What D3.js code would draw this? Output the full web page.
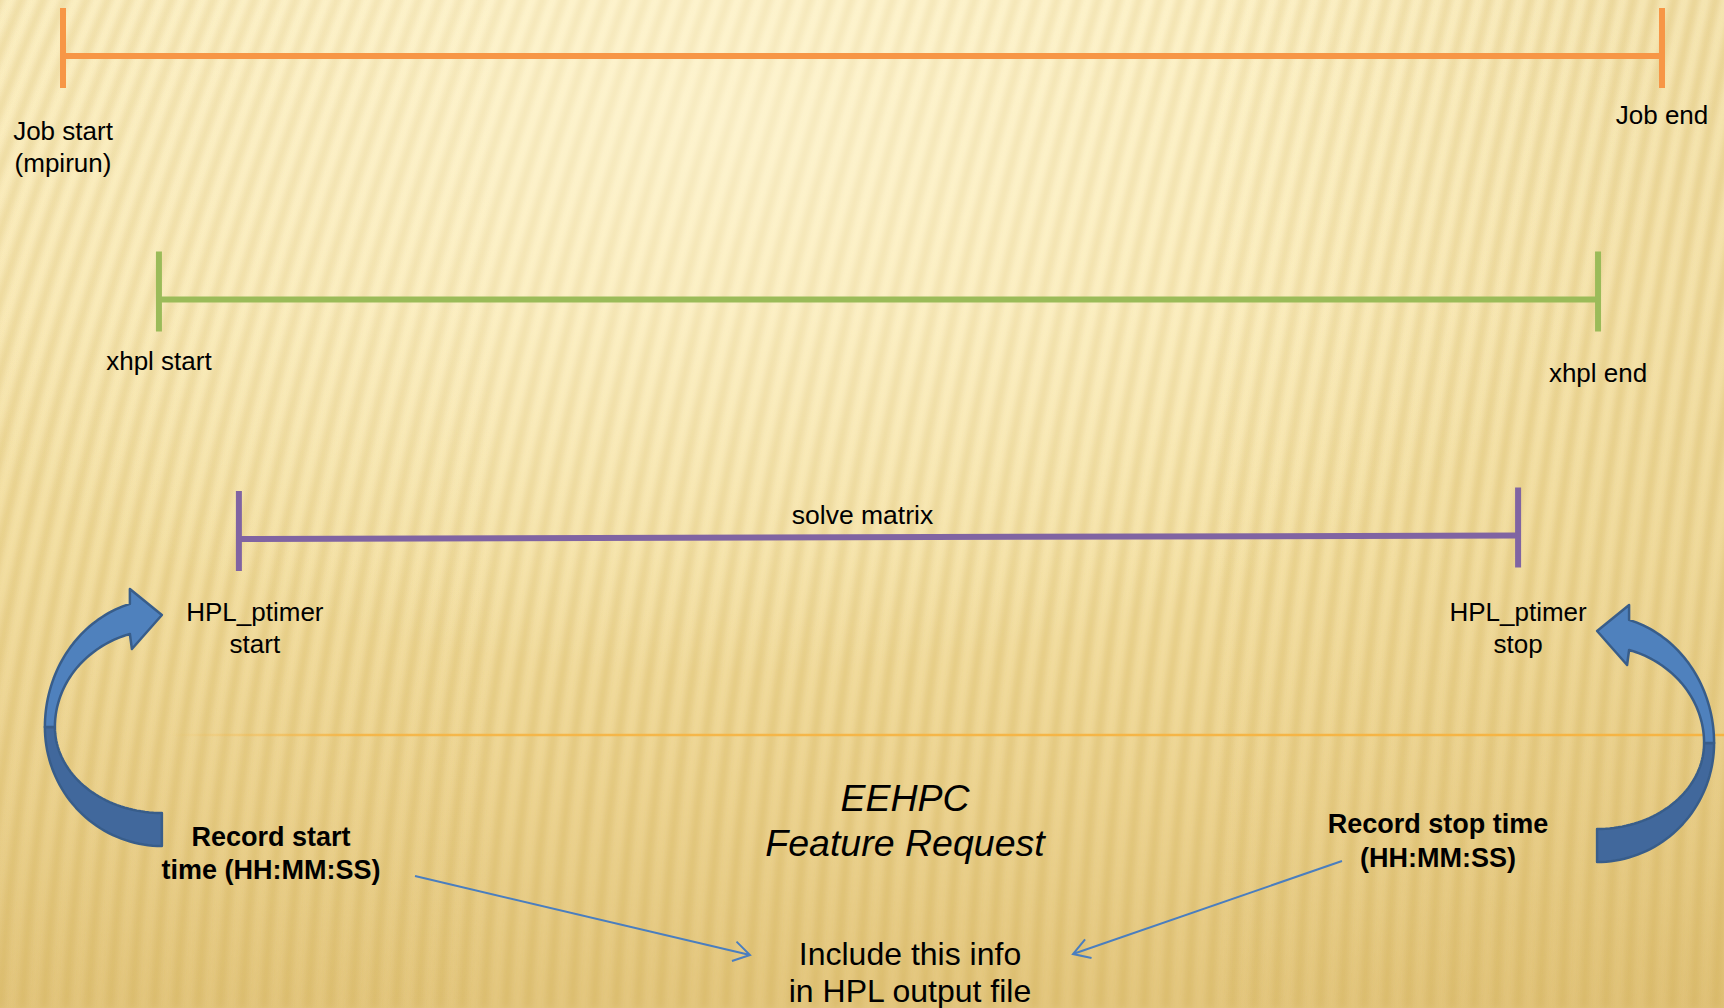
<!DOCTYPE html>
<html><head><meta charset="utf-8">
<script src="https://cdn.jsdelivr.net/npm/d3@7"></script>
<style>html,body{margin:0;padding:0;overflow:hidden;background:#f5e3a8}svg{display:block}</style>
</head><body><svg id="c" width="1724" height="1008"></svg>
<script>
// ---- data ----
const rows = ["job", "xhpl", "solve"];
const spanStart = [0, 6, 11];
const spanEnd = [100, 96, 91];
const spanColors = ["#f79646", "#9bbb59", "#8064a2"];
const startLabels = [["Job start", "(mpirun)"], ["xhpl start"], ["HPL_ptimer", "start"]];
const endLabels = [["Job end"], ["xhpl end"], ["HPL_ptimer", "stop"]];
const midLabels = ["", "", "solve matrix"];
const recordLabels = [["Record start", "time (HH:MM:SS)"], ["Record stop time", "(HH:MM:SS)"]];
const titleLines = ["EEHPC", "Feature Request"];
const outputLines = ["Include this info", "in HPL output file"];

// ---- layout ----
const W = 1724, H = 1008;
const rowY = [56, 299.5, 539];
const startDy = [84, 70, 82], endDy = [68, 82, 82], startDx = [0, 0, 16];
const tilt = [0, 0, -3.5];
const FONT = "'Liberation Sans', Arial, sans-serif";

const svg = d3.select("#c");
const defs = svg.append("defs");

// background gradients
const gV = defs.append("linearGradient").attr("id", "bgV").attr("x1", 0).attr("y1", 0).attr("x2", 0).attr("y2", 1);
[[0, "#fdf1c5"], [0.3, "#fbecba"], [0.55, "#f5e2a8"], [0.8, "#ecd391"], [1, "#e3c67e"]]
  .forEach(([o, c]) => gV.append("stop").attr("offset", o).attr("stop-color", c));
const gH = defs.append("linearGradient").attr("id", "bgH").attr("x1", 0).attr("y1", 0).attr("x2", 1).attr("y2", 0);
[[0, "#c9a24a", 0.05], [0.3, "#c9a24a", 0], [0.7, "#c9a24a", 0], [1, "#c9a24a", 0.14]]
  .forEach(([o, c, a]) => gH.append("stop").attr("offset", o).attr("stop-color", c).attr("stop-opacity", a));
const gR = defs.append("radialGradient").attr("id", "bgR").attr("cx", 0.42).attr("cy", 0.12).attr("r", 0.55);
[[0, "#fff8dc", 0.55], [1, "#fff8dc", 0]]
  .forEach(([o, c, a]) => gR.append("stop").attr("offset", o).attr("stop-color", c).attr("stop-opacity", a));
defs.append("filter").attr("id", "blur").attr("x", -0.1).attr("y", -0.1).attr("width", 1.2).attr("height", 1.2)
  .append("feGaussianBlur").attr("stdDeviation", 3.2);

svg.append("rect").attr("width", W).attr("height", H).attr("fill", "url(#bgV)");

// stripes (curved: slanted at top, near-vertical at bottom)
const stripes = svg.append("g").attr("filter", "url(#blur)");
for (let i = -20; i < 100; i++) {
  let px = i * 22, pts = [];
  for (let yy = H; yy >= -20; yy -= 12) {
    pts.push([px, yy]);
    const s = (0.42 - 0.2 * Math.min(Math.max(px, 0), W) / W) * (1 - 0.85 * yy / H);
    px += s * 12;
  }
  stripes.append("path").attr("d", d3.line()(pts)).attr("fill", "none")
    .attr("stroke", "#c7a240").attr("stroke-opacity", 0.28).attr("stroke-width", 9);
}
svg.append("rect").attr("width", W).attr("height", H).attr("fill", "url(#bgH)");
svg.append("rect").attr("width", W).attr("height", H).attr("fill", "url(#bgR)");

// ---- scales ----
const x = d3.scaleLinear().domain([0, 100]).range([63, 1662]);
const y = d3.scaleOrdinal().domain(rows).range(rowY);

// ---- timeline spans ----
const spans = rows.map((r, i) => ({ r, i, s: spanStart[i], e: spanEnd[i], c: spanColors[i] }));
const gs = svg.append("g").selectAll("g").data(spans).join("g");
gs.append("line").attr("x1", d => x(d.s)).attr("x2", d => x(d.e))
  .attr("y1", d => y(d.r)).attr("y2", d => y(d.r) + tilt[d.i])
  .attr("stroke", d => d.c).attr("stroke-width", 6);
gs.append("line").attr("x1", d => x(d.s)).attr("x2", d => x(d.s))
  .attr("y1", d => y(d.r) - 48).attr("y2", d => y(d.r) + 32)
  .attr("stroke", d => d.c).attr("stroke-width", 6);
gs.append("line").attr("x1", d => x(d.e)).attr("x2", d => x(d.e))
  .attr("y1", d => y(d.r) + tilt[d.i] - 48).attr("y2", d => y(d.r) + tilt[d.i] + 32)
  .attr("stroke", d => d.c).attr("stroke-width", 6);

function multiText(g, lines, cx, by, size, lh, opts = {}) {
  const t = g.append("text").attr("x", cx).attr("y", by).attr("text-anchor", "middle")
    .attr("font-family", FONT).attr("font-size", size).attr("fill", "#000")
    .attr("font-weight", opts.bold ? "bold" : "normal").attr("font-style", opts.italic ? "italic" : "normal");
  lines.forEach((l, k) => t.append("tspan").attr("x", cx).attr("y", by + k * lh).text(l));
}
const lbl = svg.append("g");
spans.forEach(d => {
  multiText(lbl, startLabels[d.i], x(d.s) + startDx[d.i], y(d.r) + startDy[d.i], 26, 31.5);
  multiText(lbl, endLabels[d.i], x(d.e), y(d.r) + endDy[d.i], 26, 31.5);
  if (midLabels[d.i]) multiText(lbl, [midLabels[d.i]], (x(d.s) + x(d.e)) / 2 - 16, y(d.r) - 15, 26.5, 31);
});

// ---- separator line ----
const gL = defs.append("linearGradient").attr("id", "sep").attr("gradientUnits", "userSpaceOnUse")
  .attr("x1", 170).attr("x2", W).attr("y1", 0).attr("y2", 0);
[[0, 0], [0.12, 0.9], [1, 1]].forEach(([o, a]) => gL.append("stop").attr("offset", o).attr("stop-color", "#f6b443").attr("stop-opacity", a));
svg.append("line").attr("x1", 170).attr("x2", W).attr("y1", 735).attr("y2", 735)
  .attr("stroke", "url(#sep)").attr("stroke-width", 2.5);

// ---- curved block arrows ----
function curvedArrow(cx, cy, dir) {
  const g = svg.append("g");
  const ptO = (p, rx, ryL, ryU) => [cx - dir * rx * Math.sin(p), cy + (p <= Math.PI / 2 ? ryL : ryU) * Math.cos(p)];
  const oRx = 117, oRyL = 119, oRyU = 128, iRx = 107, iRyL = 86, iRyU = 97.5;
  const oEnd = Math.PI - Math.asin(32 / oRx), iEnd = Math.PI - Math.asin(32 / iRx);
  const seq = (a, b, n) => d3.range(n + 1).map(k => a + (b - a) * k / n);
  const lower = seq(0, Math.PI / 2, 40).map(p => ptO(p, oRx, oRyL, oRyU))
    .concat(seq(Math.PI / 2, 0, 40).map(p => ptO(p, iRx, iRyL, iRyU)));
  const upper = seq(Math.PI / 2, oEnd, 40).map(p => ptO(p, oRx, oRyL, oRyU))
    .concat([[cx - dir * 32, cy - 138], [cx, cy - 112], [cx - dir * 30, cy - 78], [cx - dir * 32, cy - 93]])
    .concat(seq(iEnd, Math.PI / 2, 40).map(p => ptO(p, iRx, iRyL, iRyU)));
  const ln = d3.line();
  g.append("path").attr("d", ln(lower) + "Z").attr("fill", "#41689c").attr("stroke", "#385d8a").attr("stroke-width", 2.5).attr("stroke-linejoin", "round");
  g.append("path").attr("d", ln(upper) + "Z").attr("fill", "#4f81bd").attr("stroke", "#385d8a").attr("stroke-width", 2.5).attr("stroke-linejoin", "round");
}
curvedArrow(x(spanStart[2]) - 77, 727, 1);
curvedArrow(x(spanEnd[2]) + 79, 743, -1);

// ---- record labels ----
multiText(lbl, recordLabels[0], 271, 846, 27, 33, { bold: true });
multiText(lbl, recordLabels[1], 1438, 833, 27, 34, { bold: true });
multiText(lbl, titleLines, 905, 811, 37.5, 45, { italic: true });
multiText(lbl, outputLines, 910, 965, 32, 37);

// ---- thin pointer arrows ----
function pointer(x1, y1, x2, y2) {
  const a = Math.atan2(y2 - y1, x2 - x1), L = 19, sp = 0.55;
  const p = d3.path();
  p.moveTo(x1, y1); p.lineTo(x2, y2);
  p.moveTo(x2 - L * Math.cos(a - sp), y2 - L * Math.sin(a - sp)); p.lineTo(x2, y2);
  p.lineTo(x2 - L * Math.cos(a + sp), y2 - L * Math.sin(a + sp));
  svg.append("path").attr("d", p.toString()).attr("fill", "none").attr("stroke", "#4a7ebf").attr("stroke-width", 2);
}
pointer(415, 876, 750, 955);
pointer(1342, 861, 1073, 954);
</script></body></html>
